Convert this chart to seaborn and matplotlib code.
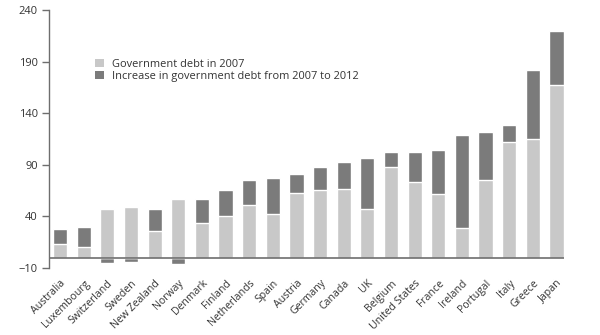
import numpy as np
import pandas as pd
import matplotlib
matplotlib.use("Agg")
import matplotlib.pyplot as plt
import seaborn as sns
from matplotlib.patches import Patch

countries = ["Australia", "Luxembourg", "Switzerland", "Sweden", "New Zealand", "Norway",
             "Denmark", "Finland", "Netherlands", "Spain", "Austria", "Germany", "Canada",
             "UK", "Belgium", "United States", "France", "Ireland", "Portugal", "Italy",
             "Greece", "Japan"]
debt_2007 = [13, 10, 47, 49.5, 26, 57, 33.5, 40.5, 51.5, 42, 62.5, 65.5, 66.5, 47, 87.5,
             73, 62, 28.5, 75, 112, 115, 167]
increase = [14.5, 20, -5.5, -4.2, 21.5, -6.4, 23.5, 25, 24, 35.5, 19, 22, 26, 50, 14.5,
            29.5, 42, 90.5, 47, 17, 67, 52.5]
yticks = [-10, 40, 90, 140, 190, 240]

light = "#c8c8c8"
dark = "#7b7b7b"
axis_col = "#6e6e6e"

sns.set_theme(style="white")
plt.rcParams['font.family'] = ['Open Sans', 'DejaVu Sans']

df = pd.DataFrame({"country": countries, "d2007": debt_2007, "inc": increase})
df["dark_h"] = np.where(df["inc"] > 0, df["d2007"] + df["inc"], df["inc"])

fig = plt.figure(figsize=(6, 3.35), dpi=100)
ax = fig.add_axes([0.0817, 0.2, 0.8583, 0.77])

sns.barplot(data=df, x="country", y="dark_h", color=dark, saturation=1, width=0.6, ax=ax)
sns.barplot(data=df, x="country", y="d2007", color=light, saturation=1, width=0.6, ax=ax)

ax.axhline(0, color=axis_col, lw=1.2, zorder=5)
ax.set_xlim(-0.47, 21.32)
ax.set_ylim(-10, 240)
ax.set_yticks(yticks)
ax.set_yticklabels([str(v).replace("-", "\u2212") for v in yticks], fontsize=8, color="#333333")
ax.set_xlabel("")
ax.set_ylabel("")
ax.set_xticks(range(len(countries)))
ax.set_xticklabels(countries, rotation=45, ha="right", rotation_mode="anchor",
                   fontsize=7.6, color="#333333")
ax.tick_params(axis="x", length=0, pad=7)
ax.tick_params(axis="y", length=5, width=1, color=axis_col, pad=3, left=True)
for s in ["top", "right", "bottom"]:
    ax.spines[s].set_visible(False)
ax.spines["left"].set_color(axis_col)
ax.spines["left"].set_linewidth(1)

handles = [Patch(facecolor=light, edgecolor="none", label="Government debt in 2007"),
           Patch(facecolor=dark, edgecolor="none", label="Increase in government debt from 2007 to 2012")]
ax.legend(handles=handles, loc="upper left", bbox_to_anchor=(0.07, 0.85), frameon=False,
          fontsize=7.9, handlelength=0.8, handleheight=0.8, handletextpad=0.8,
          labelspacing=0.1, labelcolor="#333333")

fig.savefig("out.png", dpi=100)
